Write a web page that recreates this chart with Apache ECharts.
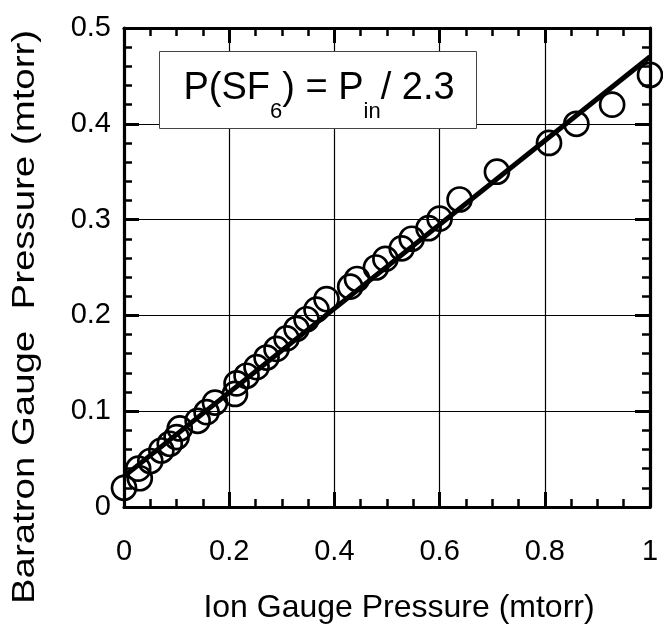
<!DOCTYPE html>
<html>
<head>
<meta charset="utf-8">
<script src="https://cdn.jsdelivr.net/npm/echarts@6/dist/echarts.min.js"></script>
<style>
html,body{margin:0;padding:0;background:#fff;}
#chart{width:663px;height:630px;}
</style>
</head>
<body>
<div id="chart"></div>
<script>
// Data
const ionGauge = [0.00, 0.03, 0.027, 0.05, 0.071, 0.087, 0.10, 0.106, 0.14, 0.157, 0.173, 0.211, 0.214, 0.233, 0.252, 0.271, 0.290, 0.309, 0.328, 0.347, 0.366, 0.385, 0.430, 0.443, 0.479, 0.497, 0.528, 0.547, 0.579, 0.600, 0.638, 0.709, 0.808, 0.860, 0.928, 1.00];
const baratron = [0.02, 0.03, 0.04, 0.048, 0.059, 0.066, 0.073, 0.082, 0.09, 0.099, 0.109, 0.118, 0.129, 0.137, 0.146, 0.156, 0.165, 0.176, 0.186, 0.196, 0.206, 0.217, 0.23, 0.238, 0.25, 0.259, 0.27, 0.28, 0.291, 0.301, 0.321, 0.35, 0.38, 0.40, 0.42, 0.451];
const fitX = [0, 1];
const fitY = [0.032, 0.470];
const xTickLabels = ['0', '0.2', '0.4', '0.6', '0.8', '1'];
const yTickLabels = ['0', '0.1', '0.2', '0.3', '0.4', '0.5'];
const xTitle = 'Ion Gauge Pressure (mtorr)';
const yTitle = 'Baratron Gauge  Pressure (mtorr)';

const FONT = 'Liberation Sans, Arial, Helvetica, sans-serif';
const chart = echarts.init(document.getElementById('chart'), null, {renderer: 'canvas'});

function axisCommon(extra) {
  return Object.assign({
    type: 'value',
    axisLine: {show: true, onZero: false, lineStyle: {color: '#000', width: 3.2}},
    axisTick: {show: true, inside: true, length: 15, lineStyle: {color: '#000', width: 3}},
    minorTick: {show: true, length: 8, lineStyle: {color: '#000', width: 2.5}},
    splitLine: {show: false},
    axisLabel: {show: false}
  }, extra);
}

const option = {
  animation: false,
  backgroundColor: '#fff',
  grid: {left: 124, right: 13, top: 28, bottom: 123, containLabel: false, outerBoundsMode: 'none'},
  xAxis: [
    axisCommon({
      position: 'bottom', min: 0, max: 1, interval: 0.2,
      minorTick: {show: true, splitNumber: 4, length: 8, lineStyle: {color: '#000', width: 2.5}},
      splitLine: {show: true, lineStyle: {color: '#000', width: 1.2}},
      axisLabel: {show: true, margin: 30, color: '#000', fontSize: 29, fontFamily: FONT,
        formatter: function (v) { return xTickLabels[Math.round(v / 0.2)]; }}
    }),
    axisCommon({
      position: 'top', min: 0, max: 1, interval: 0.2,
      minorTick: {show: true, splitNumber: 4, length: 8, lineStyle: {color: '#000', width: 2.5}}
    })
  ],
  yAxis: [
    axisCommon({
      position: 'left', min: 0, max: 0.5, interval: 0.1,
      minorTick: {show: true, splitNumber: 5, length: 8, lineStyle: {color: '#000', width: 2.5}},
      splitLine: {show: true, lineStyle: {color: '#000', width: 1.2}},
      axisLabel: {show: true, margin: 13, color: '#000', fontSize: 29, fontFamily: FONT,
        formatter: function (v) { return yTickLabels[Math.round(v / 0.1)]; }}
    }),
    axisCommon({
      position: 'right', min: 0, max: 0.5, interval: 0.1,
      minorTick: {show: true, splitNumber: 5, length: 8, lineStyle: {color: '#000', width: 2.5}}
    })
  ],
  series: [
    {
      type: 'scatter',
      xAxisIndex: 0, yAxisIndex: 0,
      data: ionGauge.map(function (x, i) { return [x, baratron[i]]; }),
      symbol: 'circle',
      symbolSize: 24,
      itemStyle: {color: 'rgba(0,0,0,0)', borderColor: '#000', borderWidth: 2.7, opacity: 1},
      z: 3
    },
    {
      type: 'line',
      xAxisIndex: 0, yAxisIndex: 0,
      data: fitX.map(function (x, i) { return [x, fitY[i]]; }),
      showSymbol: false,
      symbol: 'none',
      lineStyle: {color: '#000', width: 5},
      z: 4
    }
  ],
  graphic: [
    {
      type: 'rect', z: 100,
      shape: {x: 159.5, y: 51.5, width: 317, height: 77},
      style: {fill: '#fff', stroke: '#444', lineWidth: 1}
    },
    {
      type: 'text', z: 101,
      x: 319, y: 89,
      style: {
        text: '{m|P(SF}{s|6}{m|) = P}{s|in}{m|/ 2.3}',
        align: 'center', verticalAlign: 'middle',
        fill: '#000',
        rich: {
          m: {fontSize: 38, fontFamily: FONT, fill: '#000'},
          s: {fontSize: 22, fontFamily: FONT, fill: '#000', padding: [46, 0, 0, 0]}
        }
      }
    },
    {
      type: 'text', z: 101,
      x: 399, y: 608,
      style: {text: xTitle, fontSize: 32, fontFamily: FONT, fill: '#000', align: 'center', verticalAlign: 'middle'}
    },
    {
      type: 'text', z: 101,
      x: 25, y: 317, rotation: Math.PI / 2, scaleX: 1.2,
      style: {text: yTitle, fontSize: 32, fontFamily: FONT, fill: '#000', align: 'center', verticalAlign: 'middle'}
    }
  ]
};
chart.setOption(option);
</script>
</body>
</html>
